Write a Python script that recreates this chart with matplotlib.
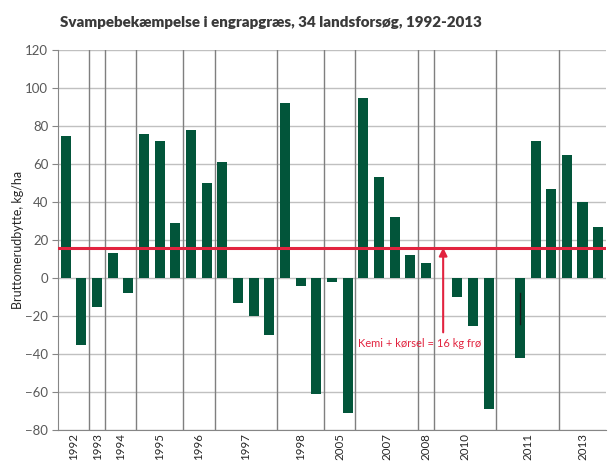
import matplotlib
matplotlib.use("Agg")
import matplotlib.pyplot as plt
import numpy as np

# one value per trial, None = empty slot in the category axis
values = [75, -35, -15, 13, -8, 76, 72, 29, 78, 50, 61, -13, -20, -30,
          92, -4, -61, -2, -71, 95, 53, 32, 12, 8, None, -10, -25, -69,
          None, -42, 72, 47, 65, 40, 27]
years = ["1992", "1993", "1994", "1995", "1996", "1997", "1998",
         "2005", "2007", "2008", "2010", "2011", "2013"]
group_sizes = [2, 1, 2, 3, 2, 4, 3, 2, 4, 1, 4, 4, 3]
cost = 16
note = "Kemi + kørsel = 16 kg frø"

plt.rcParams['font.family'] = ['Lato', 'DejaVu Sans']

green = '#02553a'
red = '#e2233f'

fig = plt.figure(figsize=(6.08, 4.61), dpi=100)
ax = fig.add_axes([0.0954, 0.0672, 0.9013, 0.8243])

x = np.arange(len(values))
h = np.array([np.nan if v is None else v for v in values], dtype=float)
ax.bar(x, h, width=0.64, color=green, zorder=3)

# small dark mark inside one bar, as in the source
ax.plot([29, 29], [-8, -24], color='#1a1a1a', lw=1, zorder=4)

ax.set_xlim(-0.5, len(values) - 0.5)
ax.set_ylim(-80, 120)
ax.set_yticks(np.arange(-80, 121, 20))
ax.yaxis.grid(True, color='#c0c0c0', lw=1, zorder=0)

# year group separators and labels
edges = np.cumsum(group_sizes)
for e in edges[:-1]:
    ax.axvline(e - 0.5, color='#7f7f7f', lw=1, zorder=2)
starts = np.concatenate([[0], edges[:-1]])
centers = starts + (np.array(group_sizes) - 1) / 2
ax.set_xticks(centers)
ax.set_xticklabels(years, rotation=90, fontsize=8.3, color='#262626')
ax.tick_params(axis='x', length=0, pad=2)
ax.tick_params(axis='y', length=4, color='#868686', labelsize=9.5,
               labelcolor='#595959', pad=3)

for s in ['top', 'right']:
    ax.spines[s].set_visible(False)
for s in ['left', 'bottom']:
    ax.spines[s].set_color('#868686')

ax.axhline(cost, color=red, lw=2.2, zorder=5)
ax.annotate('', xy=(24.1, cost), xytext=(24.1, -28.6),
            arrowprops=dict(arrowstyle='-|>', color=red, lw=1.5,
                            mutation_scale=12, shrinkA=0, shrinkB=0),
            zorder=6)
ax.text(22.6, -34.3, note, color=red, fontsize=8, ha='center', va='center')

ax.set_ylabel('Bruttomerudbytte, kg/ha', fontsize=9, color='#262626')
ax.yaxis.set_label_coords(-0.062, 0.5)
fig.text(0.446, 0.952, 'Svampebekæmpelse i engrapgræs, 34 landsforsøg, 1992-2013',
         ha='center', va='center', fontsize=10.9, fontweight='heavy', color='#3a3a3a')

fig.savefig('out.png', dpi=100)
